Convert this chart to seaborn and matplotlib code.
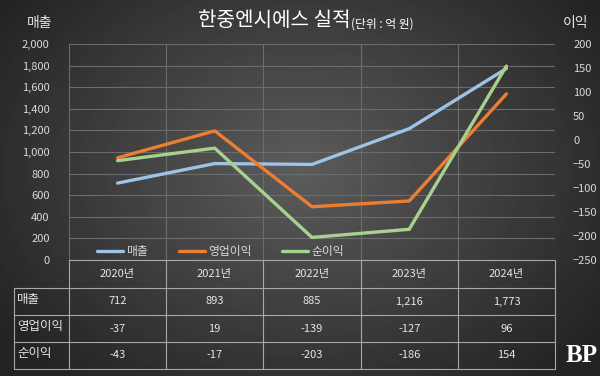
import numpy as np
import pandas as pd
import matplotlib
matplotlib.use("Agg")
import matplotlib.pyplot as plt
from matplotlib.lines import Line2D
import seaborn as sns

# chart data
years = ["2020년", "2021년", "2022년", "2023년", "2024년"]
sales = [712, 893, 885, 1216, 1773]
op_profit = [-37, 19, -139, -127, 96]
net_profit = [-43, -17, -203, -186, 154]

sales_labels = ["712", "893", "885", "1,216", "1,773"]
row_names = ["매출", "영업이익", "순이익"]
series_colors = {"매출": "#9dc3e6", "영업이익": "#ed7d31", "순이익": "#a9d18e"}

sns.set_style("dark")
plt.rcParams["font.family"] = ["Noto Sans CJK KR", "DejaVu Sans"]

W, H = 600, 376
fig = plt.figure(figsize=(6.0, 3.76), dpi=100)

# radial dark background
bg = fig.add_axes([0, 0, 1, 1], zorder=-10)
yy, xx = np.mgrid[0:H, 0:W]
r = np.sqrt(((xx - 300) / 330.0) ** 2 + ((yy - 170) / 250.0) ** 2)
shade = np.clip(0.36 - 0.2 * r, 0.14, 0.36)
bg.imshow(shade, cmap="gray", vmin=0, vmax=1, aspect="auto", extent=[0, W, H, 0])
bg.set_xlim(0, W)
bg.set_ylim(H, 0)
bg.axis("off")


def fx(px):
    return px / W


def fy(py):
    return 1 - py / H


# plot area in pixel coords
left, right, top, bottom = 69, 555, 44, 260
ax = fig.add_axes([fx(left), fy(bottom), fx(right - left), (bottom - top) / H])
ax.patch.set_alpha(0)
ax2 = ax.twinx()
ax2.patch.set_alpha(0)

x = np.arange(len(years))
df_sales = pd.DataFrame({"x": x, "v": sales})
df_op = pd.DataFrame({"x": x, "v": op_profit})
df_net = pd.DataFrame({"x": x, "v": net_profit})

sns.lineplot(data=df_sales, x="x", y="v", ax=ax, color=series_colors["매출"], lw=2.4, zorder=3)
sns.lineplot(data=df_op, x="x", y="v", ax=ax2, color=series_colors["영업이익"], lw=2.4, zorder=3)
sns.lineplot(data=df_net, x="x", y="v", ax=ax2, color=series_colors["순이익"], lw=2.4, zorder=4)

ax.set_xlim(-0.5, 4.5)
ax.set_ylim(0, 2000)
ax2.set_ylim(-250, 200)
ax.set_yticks(range(0, 2001, 200))
ax.set_yticklabels([f"{v:,}" for v in range(0, 2001, 200)])
ax2.set_yticks(range(-250, 201, 50))
ax.set_xticks(np.arange(-0.5, 5, 1))
ax.set_xticklabels([])
for a in (ax, ax2):
    a.set_xlabel("")
    a.set_ylabel("")
    for s in a.spines.values():
        s.set_visible(False)
    a.tick_params(length=0, colors="#d9d9d9", labelsize=8)
ax.tick_params(axis="y", pad=14)
ax2.tick_params(axis="y", pad=13)
ax.grid(True, color="#6c6c6c", lw=0.8)
ax2.grid(False)
ax.set_axisbelow(True)

handles = [Line2D([], [], color=series_colors[n], lw=2.4) for n in row_names]
leg = ax.legend(handles, row_names, loc="lower left", bbox_to_anchor=(0.035, -0.04),
                ncol=3, frameon=False, fontsize=8.5, handlelength=2.2,
                columnspacing=2.6, handletextpad=0.3)
for t in leg.get_texts():
    t.set_color("#d9d9d9")

# titles
fig.text(fx(350), fy(21), "한중엔시에스 실적", color="white", fontsize=14.5,
         ha="right", va="center")
fig.text(fx(351), fy(24), "(단위 : 억 원)", color="white", fontsize=8.5,
         ha="left", va="center")
fig.text(fx(40), fy(23), "매출", color="#e6e6e6", fontsize=10, ha="center", va="center")
fig.text(fx(576), fy(23), "이익", color="#e6e6e6", fontsize=10, ha="center", va="center")

# data table
col_x = [69, 166, 263, 361, 458, 555]
row_y = [260, 288, 315, 342, 369]
line_kw = dict(color="#a8a8a8", lw=0.8, transform=fig.transFigure)
fig.add_artist(Line2D([fx(69), fx(555)], [fy(260), fy(260)], **line_kw))
for yv in row_y[1:]:
    fig.add_artist(Line2D([fx(14), fx(555)], [fy(yv), fy(yv)], **line_kw))
fig.add_artist(Line2D([fx(14), fx(14)], [fy(288), fy(369)], **line_kw))
for xv in col_x:
    fig.add_artist(Line2D([fx(xv), fx(xv)], [fy(260), fy(369)], **line_kw))

centers = [(col_x[i] + col_x[i + 1]) / 2 for i in range(5)]
for c, yr in zip(centers, years):
    fig.text(fx(c), fy(274), yr, color="#e6e6e6", fontsize=8, ha="center", va="center")

table_rows = [sales_labels, [str(v) for v in op_profit], [str(v) for v in net_profit]]
for i, (name, vals) in enumerate(zip(row_names, table_rows)):
    yc = (row_y[i + 1] + row_y[i + 2]) / 2
    fig.text(fx(17), fy(yc - 2), name, color="#e6e6e6", fontsize=9, ha="left", va="center")
    for c, v in zip(centers, vals):
        fig.text(fx(c), fy(yc), v, color="#e6e6e6", fontsize=8, ha="center", va="center")

fig.text(fx(582), fy(355), "BP", color="white", fontsize=18, fontweight="bold",
         family="Liberation Serif", ha="center", va="center")

fig.savefig("out.png", dpi=100)
